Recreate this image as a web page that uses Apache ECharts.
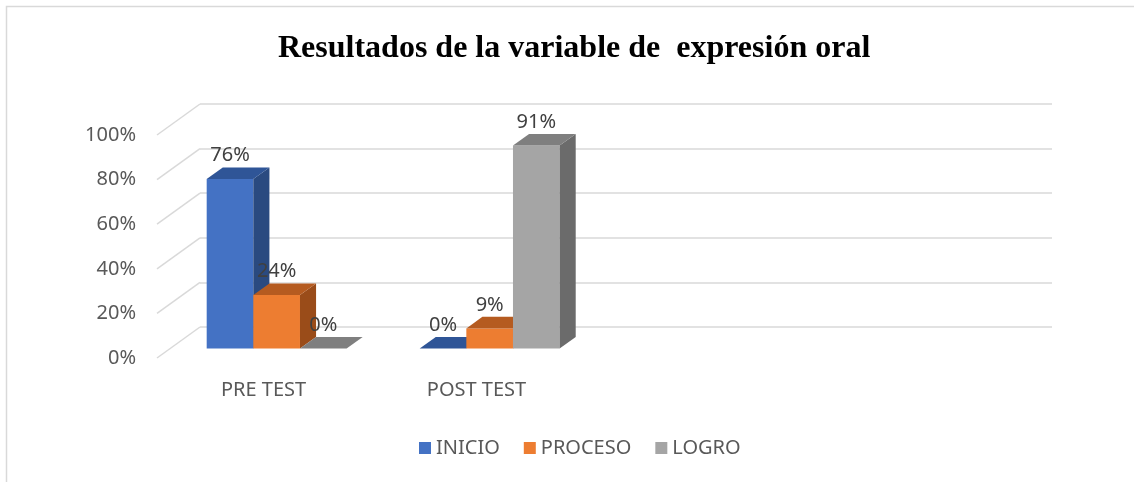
<!DOCTYPE html>
<html>
<head>
<meta charset="utf-8">
<script src="https://cdn.jsdelivr.net/npm/echarts@6/dist/echarts.min.js"></script>
<style>
  html, body { margin: 0; padding: 0; background: #ffffff; }
  #chart { width: 1134px; height: 482px; }
</style>
</head>
<body>
<div id="chart"></div>
<script>
// ---- data ----
const categories = ['PRE TEST', 'POST TEST', '', ''];
const seriesNames = ['INICIO', 'PROCESO', 'LOGRO'];
const inicio = [76, 0];
const proceso = [24, 9];
const logro = [0, 91];
const yTickValues = [0, 20, 40, 60, 80, 100];
const titleText = 'Resultados de la variable de  expresión oral';

// ---- styling / projection constants ----
const FONT = '"Noto Sans", sans-serif';
const DX = 43, DY = -31;          // depth offset from front plane to back wall
const D0 = 0.306, D1 = 0.68;      // bar depth span (fraction of full depth)
const BAR_FRAC = 0.219;           // bar width as fraction of category band
const faceColors = [
  { front: '#4472C4', top: '#2F5597', side: '#2A4A80' },
  { front: '#ED7D31', top: '#B55B20', side: '#9A4C19' },
  { front: '#A5A5A5', top: '#7F7F7F', side: '#6B6B6B' }
];
const FRONT = { left: 157, right: 125, top: 135, bottom: 124 };

function barSeries(name, values, idx) {
  const col = faceColors[idx];
  return {
    name: name,
    type: 'custom',
    xAxisIndex: 0, yAxisIndex: 0,
    clip: false,
    itemStyle: { color: col.front },
    encode: { x: 0, y: 1 },
    data: values.map((v, i) => [i, v]),
    renderItem: function (params, api) {
      const ci = api.value(0), v = api.value(1);
      const base = api.coord([ci, 0]);
      const topP = api.coord([ci, v]);
      const band = api.size([1, 0])[0];
      const bw = band * BAR_FRAC;
      const sx0 = DX * D0, sy0 = DY * D0;
      const dxd = DX * (D1 - D0), dyd = DY * (D1 - D0);
      const x0 = base[0] - 1.5 * bw + idx * bw + sx0;
      const by = base[1] + sy0;
      const ty = topP[1] + sy0;
      const children = [];
      if (by - ty > 0.01) {
        children.push({ type: 'rect', shape: { x: x0, y: ty, width: bw, height: by - ty }, style: { fill: col.front } });
        children.push({ type: 'polygon', shape: { points: [[x0 + bw, ty], [x0 + bw + dxd, ty + dyd], [x0 + bw + dxd, by + dyd], [x0 + bw, by]] }, style: { fill: col.side } });
      }
      children.push({ type: 'polygon', shape: { points: [[x0, ty], [x0 + bw, ty], [x0 + bw + dxd, ty + dyd], [x0 + dxd, ty + dyd]] }, style: { fill: col.top } });
      children.push({ type: 'text', style: { text: v + '%', x: x0 + bw / 2, y: ty + dyd - 12, align: 'center', verticalAlign: 'middle', fontSize: 20, fontFamily: FONT, fill: '#404040' } });
      return { type: 'group', children: children };
    }
  };
}

const chart = echarts.init(document.getElementById('chart'), null, { renderer: 'canvas' });
const option = {
  backgroundColor: '#ffffff',
  animation: false,
  title: {
    text: titleText,
    left: 278, top: 33, padding: 0,
    textStyle: { fontFamily: '"Liberation Serif", serif', fontWeight: 'bold', fontSize: 32, color: '#000000' }
  },
  legend: {
    data: seriesNames.map((n, i) => ({ name: n, icon: 'rect', itemStyle: { color: faceColors[i].front } })),
    left: 414, top: 433,
    itemWidth: 12, itemHeight: 12, itemGap: 24,
    textStyle: { fontFamily: FONT, fontSize: 20, color: '#595959' }
  },
  graphic: [{
    type: 'rect', shape: { x: 6.5, y: 6.5, width: 1400, height: 800 },
    style: { fill: 'none', stroke: '#d9d9d9', lineWidth: 1.5 }, silent: true, z: -10
  }],
  grid: [
    { left: FRONT.left, right: FRONT.right, top: FRONT.top, bottom: FRONT.bottom },
    { left: FRONT.left + DX, right: FRONT.right - DX, top: FRONT.top + DY, bottom: FRONT.bottom - DY }
  ],
  xAxis: [
    { type: 'category', gridIndex: 0, data: categories,
      axisLine: { show: false }, axisTick: { show: false }, splitLine: { show: false },
      axisLabel: { interval: 0, margin: 22, fontFamily: FONT, fontSize: 20, color: '#595959' } },
    { type: 'category', gridIndex: 1, data: categories, show: false }
  ],
  yAxis: [
    { type: 'value', gridIndex: 0, min: 0, max: 100, interval: 20,
      axisLine: { show: false }, axisTick: { show: false }, splitLine: { show: false },
      axisLabel: { margin: 21, formatter: '{value}%', fontFamily: FONT, fontSize: 20, color: '#595959' } },
    { type: 'value', gridIndex: 1, min: 0, max: 100, interval: 20,
      axisLine: { show: false }, axisTick: { show: false }, axisLabel: { show: false },
      splitLine: { show: true, lineStyle: { color: '#d9d9d9', width: 1.5 } } }
  ],
  series: [
    {
      name: 'walls', type: 'custom', xAxisIndex: 0, yAxisIndex: 0, clip: false, silent: true, z: 1,
      encode: { x: 0, y: 1 },
      data: yTickValues.map(v => [0, v]),
      renderItem: function (params, api) {
        const y = api.coord([0, api.value(1)])[1];
        const x = params.coordSys.x;
        return { type: 'line', shape: { x1: x, y1: y, x2: x + DX, y2: y + DY }, style: { stroke: '#d9d9d9', lineWidth: 1.5 } };
      }
    },
    barSeries(seriesNames[0], inicio, 0),
    barSeries(seriesNames[1], proceso, 1),
    barSeries(seriesNames[2], logro, 2)
  ]
};
chart.setOption(option);
</script>
</body>
</html>
